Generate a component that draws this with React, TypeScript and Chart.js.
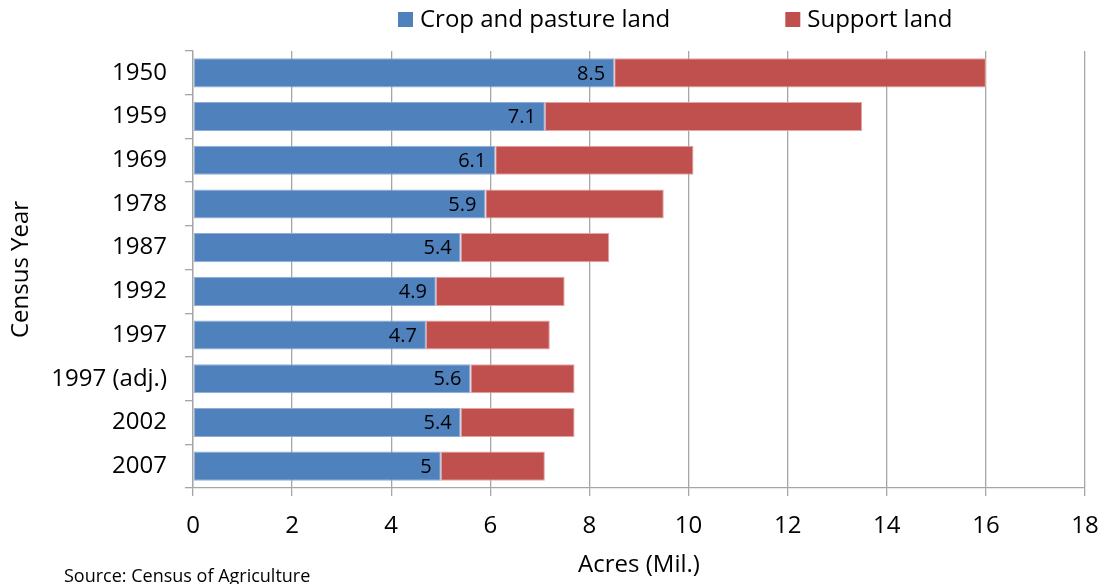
import { useEffect, useRef } from "react";
import { Chart, registerables } from "chart.js";

Chart.register(...registerables);

const categories = ["1950", "1959", "1969", "1978", "1987", "1992", "1997", "1997 (adj.)", "2002", "2007"];
const cropPasture = [8.5, 7.1, 6.1, 5.9, 5.4, 4.9, 4.7, 5.6, 5.4, 5];
const supportLand = [7.5, 6.4, 4.0, 3.6, 3.0, 2.6, 2.5, 2.1, 2.3, 2.1];
const seriesLabels = ["Crop and pasture land", "Support land"];
const seriesColors = ["#4F81BD", "#C0504D"];
const seriesEdges = ["#8FADD6", "#E3A3A1"];
const xMin = 0;
const xMax = 18;
const xStep = 2;
const xTitle = "Acres (Mil.)";
const yTitle = "Census Year";
const sourceNote = "Source: Census of Agriculture";

const FONT = "'Open Sans', sans-serif";

const extrasPlugin = {
  id: "extras",
  afterDatasetsDraw(chart: any) {
    const ctx = chart.ctx;
    const meta = chart.getDatasetMeta(0);
    ctx.save();
    ctx.font = `20px ${FONT}`;
    ctx.fillStyle = "#000";
    ctx.textAlign = "right";
    ctx.textBaseline = "middle";
    meta.data.forEach((el: any, i: number) => {
      ctx.fillText(String(chart.data.datasets[0].data[i]), el.x - 9, el.y + 1);
    });
    ctx.restore();
  },
  afterDraw(chart: any) {
    const ctx = chart.ctx;
    ctx.save();
    // legend
    ctx.font = `24px ${FONT}`;
    ctx.textBaseline = "alphabetic";
    ctx.textAlign = "left";
    let x = 398;
    chart.data.datasets.forEach((ds: any) => {
      ctx.fillStyle = ds.backgroundColor;
      ctx.fillRect(x, 12, 15, 15);
      ctx.fillStyle = "#000";
      ctx.fillText(ds.label, x + 22, 27);
      x += 22 + ctx.measureText(ds.label).width + 115;
    });
    // source note
    ctx.font = `18px ${FONT}`;
    ctx.fillStyle = "#000";
    ctx.fillText(sourceNote, 64, 582);
    ctx.restore();
  },
};

export default function App() {
  const canvasRef = useRef<HTMLCanvasElement | null>(null);

  useEffect(() => {
    if (!canvasRef.current) return;
    const gridColor = "#A6A6A6";
    const chart = new Chart(canvasRef.current, {
      type: "bar",
      data: {
        labels: categories,
        datasets: [
          {
            label: seriesLabels[0],
            data: cropPasture,
            backgroundColor: seriesColors[0],
            borderColor: seriesEdges[0],
            borderWidth: 1,
            borderSkipped: false,
            categoryPercentage: 1,
            barPercentage: 0.665,
          },
          {
            label: seriesLabels[1],
            data: supportLand,
            backgroundColor: seriesColors[1],
            borderColor: seriesEdges[1],
            borderWidth: 1,
            borderSkipped: false,
            categoryPercentage: 1,
            barPercentage: 0.665,
          },
        ],
      },
      options: {
        indexAxis: "y",
        animation: false,
        responsive: false,
        maintainAspectRatio: false,
        devicePixelRatio: 1,
        layout: { padding: { top: 51, left: 0, right: 19, bottom: 0 } },
        plugins: {
          legend: { display: false },
          tooltip: { enabled: false },
        },
        scales: {
          x: {
            type: "linear",
            stacked: true,
            min: xMin,
            max: xMax,
            ticks: {
              stepSize: xStep,
              color: "#000",
              font: { family: FONT, size: 24 },
              padding: 16,
            },
            grid: {
              color: gridColor,
              lineWidth: 1.3,
              tickLength: 8,
              drawTicks: true,
            },
            border: { color: gridColor, width: 1.3 },
            title: {
              display: true,
              text: xTitle,
              color: "#000",
              font: { family: FONT, size: 24 },
              padding: { top: 0, bottom: 4 },
            },
            afterFit(scale: any) {
              scale.height = 96;
              scale.paddingLeft = 0;
              scale.paddingRight = 0;
            },
          },
          y: {
            type: "category",
            stacked: true,
            ticks: {
              color: "#000",
              font: { family: FONT, size: 24 },
              padding: 18,
            },
            grid: {
              display: true,
              drawOnChartArea: false,
              drawTicks: true,
              tickLength: 8,
              color: gridColor,
              lineWidth: 1.3,
            },
            border: { color: gridColor, width: 1.3 },
            title: {
              display: true,
              text: yTitle,
              color: "#000",
              font: { family: FONT, size: 24 },
              padding: { top: 7, bottom: 0 },
            },
            afterFit(scale: any) {
              scale.width = 193;
              scale.paddingTop = 0;
              scale.paddingBottom = 0;
            },
          },
        },
      },
      plugins: [extrasPlugin],
    } as any);
    return () => chart.destroy();
  }, []);

  return (
    <div style={{ position: "fixed", left: 0, top: 0, width: 1104, height: 584, background: "#fff" }}>
      <canvas ref={canvasRef} width={1104} height={584} style={{ width: 1104, height: 584, display: "block" }} />
    </div>
  );
}
